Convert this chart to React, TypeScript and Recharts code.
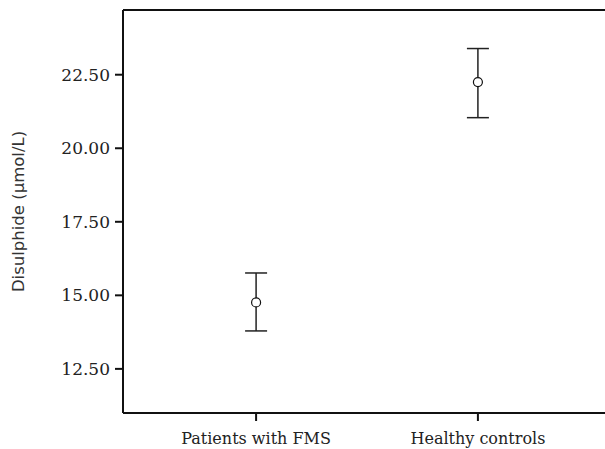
import {
  ComposedChart,
  Scatter,
  ErrorBar,
  XAxis,
  YAxis,
  ReferenceLine,
} from 'recharts';

const GROUPS = ['Patients with FMS', 'Healthy controls'];
const MEANS = [14.76, 22.25];
const LOWER = [13.79, 21.04];
const UPPER = [15.76, 23.39];
const Y_TICKS = [12.5, 15, 17.5, 20, 22.5];
const Y_MIN = 11;
const Y_MAX = 24.7;

const data = GROUPS.map((name, i) => ({
  x: i + 1,
  name,
  mean: MEANS[i],
  err: [MEANS[i] - LOWER[i], UPPER[i] - MEANS[i]],
}));

const serif = '"DejaVu Serif", serif';

function Dot(props: any) {
  return <circle cx={props.cx} cy={props.cy} r={4.5} fill="#fff" stroke="#111" strokeWidth={1.2} />;
}

function YLabel(props: any) {
  const vb = props.viewBox;
  const cx = 18;
  const cy = vb.y + vb.height / 2;
  return (
    <text
      x={cx}
      y={cy}
      transform={`rotate(-90 ${cx} ${cy})`}
      textAnchor="middle"
      dominantBaseline="central"
      fill="#333"
      style={{ fontFamily: '"DejaVu Sans", sans-serif', fontSize: 16.5 }}
    >
      Disulphide (µmol/L)
    </text>
  );
}

export default function App() {
  return (
    <div style={{ position: 'absolute', left: 0, top: 0, width: 605, height: 449, overflow: 'hidden', background: '#fff' }}>
      <ComposedChart width={619} height={449} data={data} margin={{ top: 10, right: 8, bottom: 0, left: 0 }}>
        <XAxis
          dataKey="x"
          type="number"
          domain={[0.4, 2.6]}
          ticks={[1, 2]}
          tickFormatter={(v: number) => GROUPS[v - 1] ?? ''}
          height={36}
          tickSize={8}
          tickMargin={12}
          axisLine={{ stroke: '#111', strokeWidth: 2 }}
          tickLine={{ stroke: '#111', strokeWidth: 2 }}
          tick={{ fill: '#222', fontSize: 16, fontFamily: serif }}
        />
        <YAxis
          dataKey="mean"
          type="number"
          domain={[Y_MIN, Y_MAX]}
          ticks={Y_TICKS}
          tickFormatter={(v: number) => v.toFixed(2)}
          width={123}
          tickSize={8}
          tickMargin={5}
          axisLine={{ stroke: '#111', strokeWidth: 2 }}
          tickLine={{ stroke: '#111', strokeWidth: 2 }}
          tick={{ fill: '#222', fontSize: 17, fontFamily: serif }}
          label={<YLabel />}
        />
        <ReferenceLine y={Y_MAX} stroke="#111" strokeWidth={2} />
        <Scatter dataKey="mean" shape={<Dot />} isAnimationActive={false}>
          <ErrorBar dataKey="err" direction="y" width={11} stroke="#222" strokeWidth={1.5} />
        </Scatter>
      </ComposedChart>
    </div>
  );
}
